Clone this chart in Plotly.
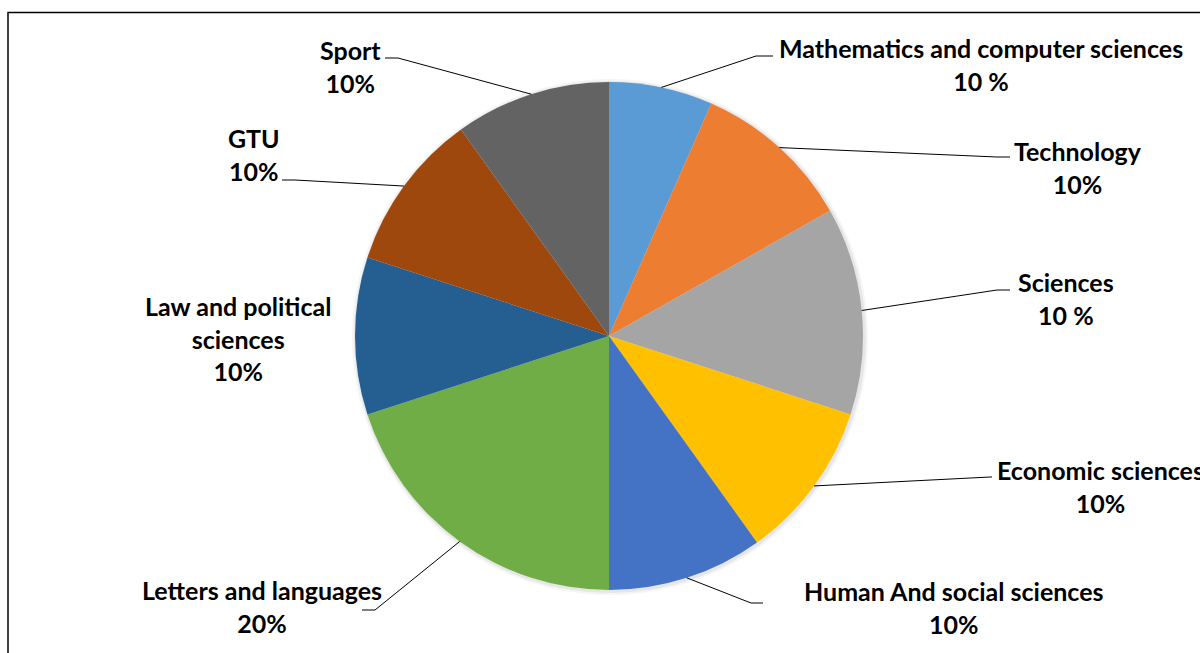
import math
import plotly.graph_objects as go

# ---- data ----
categories = [
    "Mathematics and computer sciences", "Technology", "Sciences",
    "Economic sciences", "Human And social sciences", "Letters and languages",
    "Law and political sciences", "GTU", "Sport",
]
values = [6.6, 10.2, 13.2, 10.1, 9.9, 20.0, 10.0, 10.1, 9.9]
label_texts = [
    "Mathematics and computer sciences<br>10 %",
    "Technology<br>10%",
    "Sciences<br>10 %",
    "Economic sciences<br>10%",
    "Human And social sciences<br>10%",
    "Letters and languages<br>20%",
    "Law and political<br>sciences<br>10%",
    "GTU<br>10%",
    "Sport<br>10%",
]
colors = ["#5B9BD5", "#ED7D31", "#A5A5A5", "#FFC000", "#4472C4",
          "#70AD47", "#255E91", "#9E480E", "#636363"]

# ---- layout (pixels) ----
W, H = 1200, 653
CX, CY, R = 609, 336, 254
# label block centres
label_pos = [(981, 64), (1078, 167), (1066, 298), (1100, 486), (954, 607),
             (262, 606), (238, 338), (254, 155), (350, 66)]
# leader line: elbow point and end of the short horizontal segment (None = no line)
leader = [((756, 56), (773, 56)), ((997, 157), (1010, 157)),
          ((997, 290), (1010, 290)), ((990, 477), (992, 477)),
          ((751, 603), (763, 603)), ((375, 610), (362, 610)),
          None, ((295, 180), (282, 180)), ((398, 58), (385, 58))]


def px(x):
    return x / W


def py(y):
    return 1 - y / H


fig = go.Figure(go.Pie(
    labels=categories, values=values, sort=False, direction="clockwise",
    rotation=0, textinfo="none", hoverinfo="label+percent",
    marker=dict(colors=colors, line=dict(width=0)),
    domain=dict(x=[px(CX - R), px(CX + R)], y=[py(CY + R), py(CY - R)]),
    showlegend=False,
))

shapes = [dict(type="rect", xref="paper", yref="paper",
               x0=px(8), x1=px(W + 20), y0=py(H + 20), y1=py(12.5),
               line=dict(color="black", width=1.5), layer="below")]
# soft shadow around the pie
for extra, alpha in [(4, 0.04), (2, 0.06)]:
    shapes.append(dict(type="circle", xref="paper", yref="paper",
                       x0=px(CX - R - extra + 1), x1=px(CX + R + extra + 1),
                       y0=py(CY + R + extra + 1), y1=py(CY - R - extra + 1),
                       fillcolor=f"rgba(0,0,0,{alpha})", line=dict(width=0),
                       layer="below"))

total = sum(values)
cum = 0
for v, ld in zip(values, leader):
    mid = (cum + v / 2) / total * 2 * math.pi
    cum += v
    if ld is None:
        continue
    ax = CX + R * math.sin(mid)
    ay = CY - R * math.cos(mid)
    (ex, ey), (hx, hy) = ld
    path = f"M {px(ax)},{py(ay)} L {px(ex)},{py(ey)} L {px(hx)},{py(hy)}"
    shapes.append(dict(type="path", xref="paper", yref="paper", path=path,
                       line=dict(color="black", width=1)))

annotations = []
for txt, (lx, ly) in zip(label_texts, label_pos):
    annotations.append(dict(
        text=f"<b>{txt}</b>", x=px(lx), y=py(ly), xref="paper", yref="paper",
        xanchor="center", yanchor="middle", showarrow=False, align="center",
        font=dict(family="Lato", size=25, color="black"),
    ))

fig.update_layout(
    width=W, height=H, margin=dict(l=0, r=0, t=0, b=0),
    paper_bgcolor="white", plot_bgcolor="white",
    shapes=shapes, annotations=annotations,
)

fig.write_html("out.html", config={"displayModeBar": False},
               post_script="document.body.style.margin='0';"
                           "document.body.style.overflow='hidden';")
